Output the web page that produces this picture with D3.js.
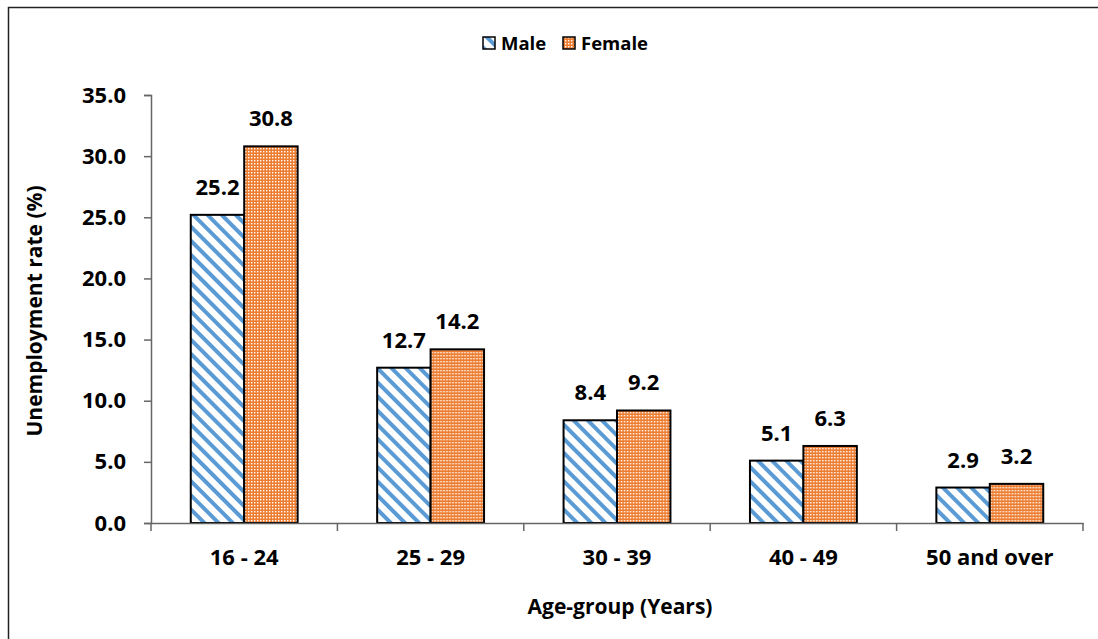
<!DOCTYPE html>
<html><head><meta charset="utf-8">
<script src="https://cdn.jsdelivr.net/npm/d3@7"></script>
<style>body{margin:0;background:#fff}svg{display:block}</style>
</head><body>
<svg id="c" width="1098" height="639"></svg>
<script>
const categories = ["16 - 24", "25 - 29", "30 - 39", "40 - 49", "50 and over"];
const seriesNames = ["Male", "Female"];
const maleValues = [25.2, 12.7, 8.4, 5.1, 2.9];
const femaleValues = [30.8, 14.2, 9.2, 6.3, 3.2];
const yTicks = [0, 5, 10, 15, 20, 25, 30, 35];

const svg = d3.select("#c");
const font = "'Open Sans', sans-serif";
const axisColor = "#666";
const defs = svg.append("defs");
// Male pattern: diagonal blue stripes (top-left to bottom-right)
const pm = defs.append("pattern").attr("id","pMale").attr("patternUnits","userSpaceOnUse")
  .attr("width",10).attr("height",10).attr("patternTransform","rotate(45)");
pm.append("rect").attr("width",10).attr("height",10).attr("fill","#fff");
pm.append("rect").attr("x",0).attr("y",0).attr("width",10).attr("height",4).attr("fill","#5B9BD5");
// Female pattern: orange with white dots grid
const pf = defs.append("pattern").attr("id","pFemale").attr("patternUnits","userSpaceOnUse")
  .attr("width",3).attr("height",3);
pf.append("rect").attr("width",3).attr("height",3).attr("fill","#ED7D31");
pf.append("rect").attr("x",1).attr("y",1).attr("width",1.4).attr("height",1.4).attr("fill","#fff");

// outer frame (top and left edges visible)
svg.append("path").attr("d","M8.5,700 L8.5,7.5 L1200,7.5")
  .attr("fill","none").attr("stroke","#222").attr("stroke-width",1.5);

const pLeft = 151, pRight = 1083, pTop = 95, pBottom = 523;
const y = d3.scaleLinear().domain([0,35]).range([pBottom, pTop]);
const x0 = d3.scaleBand().domain(categories).range([pLeft, pRight]).paddingInner(0).paddingOuter(0);
const x1 = d3.scaleBand().domain(seriesNames).range([0, x0.bandwidth()]).paddingInner(0).paddingOuter(0.744);

const data = categories.map((c,i)=>({cat:c, vals:[{s:"Male",v:maleValues[i]},{s:"Female",v:femaleValues[i]}]}));

// bars
const g = svg.append("g");
const groups = g.selectAll("g.cat").data(data).join("g").attr("transform", d=>`translate(${x0(d.cat)},0)`);
groups.selectAll("rect").data(d=>d.vals).join("rect")
  .attr("x", d=>x1(d.s)).attr("y", d=>y(d.v))
  .attr("width", x1.bandwidth()).attr("height", d=>y(0)-y(d.v))
  .attr("fill", d=> d.s==="Male" ? "url(#pMale)" : "url(#pFemale)")
  .attr("stroke","#000").attr("stroke-width",2);
groups.selectAll("text").data(d=>d.vals).join("text")
  .attr("x", d=>x1(d.s)+x1.bandwidth()/2).attr("y", d=>y(d.v)-20)
  .attr("text-anchor","middle").attr("font-family",font).attr("font-weight","bold")
  .attr("font-size",22).attr("fill","#000").text(d=>d.v.toFixed(1));

// y axis
const ya = svg.append("g").attr("transform",`translate(${pLeft},0)`)
  .call(d3.axisLeft(y).tickValues(yTicks).tickFormat(d3.format(".1f")).tickSize(7).tickSizeOuter(7));
ya.select(".domain").attr("stroke",axisColor).attr("stroke-width",1.5);
ya.selectAll(".tick line").attr("stroke",axisColor).attr("stroke-width",1.5);
ya.selectAll("text").attr("font-family",font).attr("font-weight","bold").attr("font-size",22)
  .attr("fill","#000").attr("x",-25);

// x axis
const xa = svg.append("g").attr("transform",`translate(0,${pBottom})`)
  .call(d3.axisBottom(x0).tickSize(0).tickSizeOuter(0));
xa.select(".domain").attr("stroke",axisColor).attr("stroke-width",1.5);
xa.selectAll("text").attr("font-family",font).attr("font-weight","bold").attr("font-size",22)
  .attr("fill","#000").attr("dy",0).attr("y",42);
// boundary ticks
const bounds = categories.map(c=>x0(c)).concat([x0(categories[categories.length-1])+x0.bandwidth()]);
svg.append("g").selectAll("line").data(bounds).join("line")
  .attr("x1",d=>d).attr("x2",d=>d).attr("y1",pBottom).attr("y2",pBottom+8)
  .attr("stroke",axisColor).attr("stroke-width",1.5);

// titles
svg.append("text").attr("transform",`translate(42,${(pTop+pBottom)/2+2}) rotate(-90)`)
  .attr("text-anchor","middle").attr("font-family",font).attr("font-weight","bold").attr("font-size",21)
  .attr("fill","#000").text("Unemployment rate (%)");
svg.append("text").attr("x",620).attr("y",614).attr("text-anchor","middle")
  .attr("font-family",font).attr("font-weight","bold").attr("font-size",21)
  .attr("fill","#000").text("Age-group (Years)");

// legend
const leg = svg.append("g");
const legItems = [{s:"Male",x:483,fill:"url(#pMale)"},{s:"Female",x:563,fill:"url(#pFemale)"}];
legItems.forEach(it=>{
  leg.append("rect").attr("x",it.x).attr("y",37).attr("width",12).attr("height",12)
    .attr("fill",it.fill).attr("stroke","#000").attr("stroke-width",1.5);
  leg.append("text").attr("x",it.x+18).attr("y",50).attr("font-family",font).attr("font-weight","bold")
    .attr("font-size",18.5).attr("fill","#000").text(it.s);
});
</script>
</body></html>
